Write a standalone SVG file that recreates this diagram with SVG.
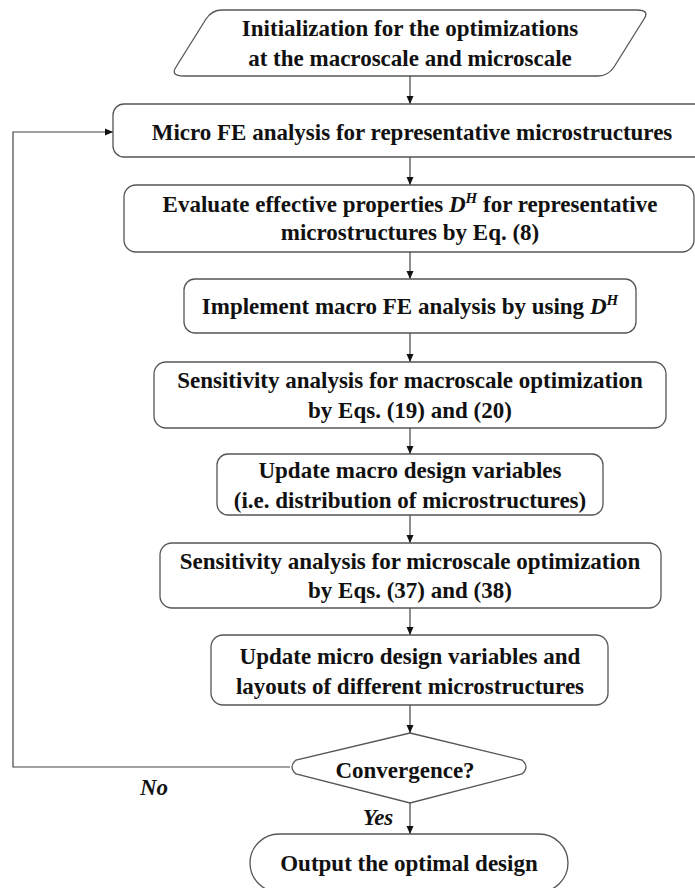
<svg xmlns="http://www.w3.org/2000/svg" width="695" height="888" viewBox="0 0 695 888">
<defs>
<marker id="ah" markerWidth="8" markerHeight="8" refX="8" refY="4" orient="auto" markerUnits="userSpaceOnUse">
<path d="M0,0.5 L8,4 L0,7.5 Z" fill="#111"/>
</marker>
<style>
.n{fill:#fff;stroke:#555;stroke-width:1.3}
.c{fill:none;stroke:#444;stroke-width:1.2}
text{font-family:"Liberation Serif","Times New Roman",serif;font-weight:bold;font-size:23px;fill:#111;text-anchor:middle}
.i{font-style:italic}
</style>
</defs>
<rect width="695" height="888" fill="#fff"/>
<g id="connectors">
<path class="c" d="M410,76 V104" marker-end="url(#ah)"/>
<path class="c" d="M410,157 V185" marker-end="url(#ah)"/>
<path class="c" d="M410,252 V279" marker-end="url(#ah)"/>
<path class="c" d="M410,333 V362" marker-end="url(#ah)"/>
<path class="c" d="M410,428 V454" marker-end="url(#ah)"/>
<path class="c" d="M410,515 V543" marker-end="url(#ah)"/>
<path class="c" d="M410,608 V635" marker-end="url(#ah)"/>
<path class="c" d="M410,705 V733" marker-end="url(#ah)"/>
<path class="c" d="M410,803 V834" marker-end="url(#ah)"/>
<path class="c" d="M290,767 H13 V132 H113" marker-end="url(#ah)"/>
<text class="i" x="154" y="795">No</text>
<text class="i" x="378" y="825">Yes</text>
</g>
<g id="init">
<path class="n" d="M222,10 H637 Q650,10 644,19 L614,67 Q608,76 598,76 H184 Q170,76 176,67 L206,19 Q212,10 222,10 Z"/>
<text x="410" y="36">Initialization for the optimizations</text>
<text x="410" y="66">at the macroscale and microscale</text>
</g>
<g id="microFE">
<rect class="n" x="113" y="104" width="600" height="53" rx="11"/>
<text x="412" y="140">Micro FE analysis for representative microstructures</text>
</g>
<g id="evaluate">
<rect class="n" x="124" y="185" width="570" height="67" rx="12"/>
<text x="410" y="212">Evaluate effective properties <tspan class="i">D</tspan><tspan class="i" font-size="15" dy="-9">H</tspan><tspan dy="9"> for representative</tspan></text>
<text x="410" y="240">microstructures by Eq. (8)</text>
</g>
<g id="implement">
<rect class="n" x="184" y="279" width="452" height="54" rx="11"/>
<text x="410" y="314">Implement macro FE analysis by using <tspan class="i">D</tspan><tspan class="i" font-size="15" dy="-9">H</tspan></text>
</g>
<g id="sensMacro">
<rect class="n" x="154" y="362" width="512" height="66" rx="12"/>
<text x="410" y="388">Sensitivity analysis for macroscale optimization</text>
<text x="410" y="418">by Eqs. (19) and (20)</text>
</g>
<g id="updateMacro">
<rect class="n" x="217" y="454" width="386" height="61" rx="11"/>
<text x="410" y="478">Update macro design variables</text>
<text x="410" y="508">(i.e. distribution of microstructures)</text>
</g>
<g id="sensMicro">
<rect class="n" x="160" y="543" width="501" height="65" rx="12"/>
<text x="410" y="569">Sensitivity analysis for microscale optimization</text>
<text x="410" y="598">by Eqs. (37) and (38)</text>
</g>
<g id="updateMicro">
<rect class="n" x="211" y="635" width="397" height="70" rx="12"/>
<text x="410" y="664">Update micro design variables and</text>
<text x="410" y="694">layouts of different microstructures</text>
</g>
<g id="convergence">
<path class="n" d="M410,733 L522,760 Q530,767 522,774 L410,803 L296,774 Q288,767 296,760 Z"/>
<text x="405" y="778">Convergence?</text>
</g>
<g id="output">
<rect class="n" x="250" y="834" width="318" height="58" rx="29"/>
<text x="409" y="871">Output the optimal design</text>
</g>
</svg>
